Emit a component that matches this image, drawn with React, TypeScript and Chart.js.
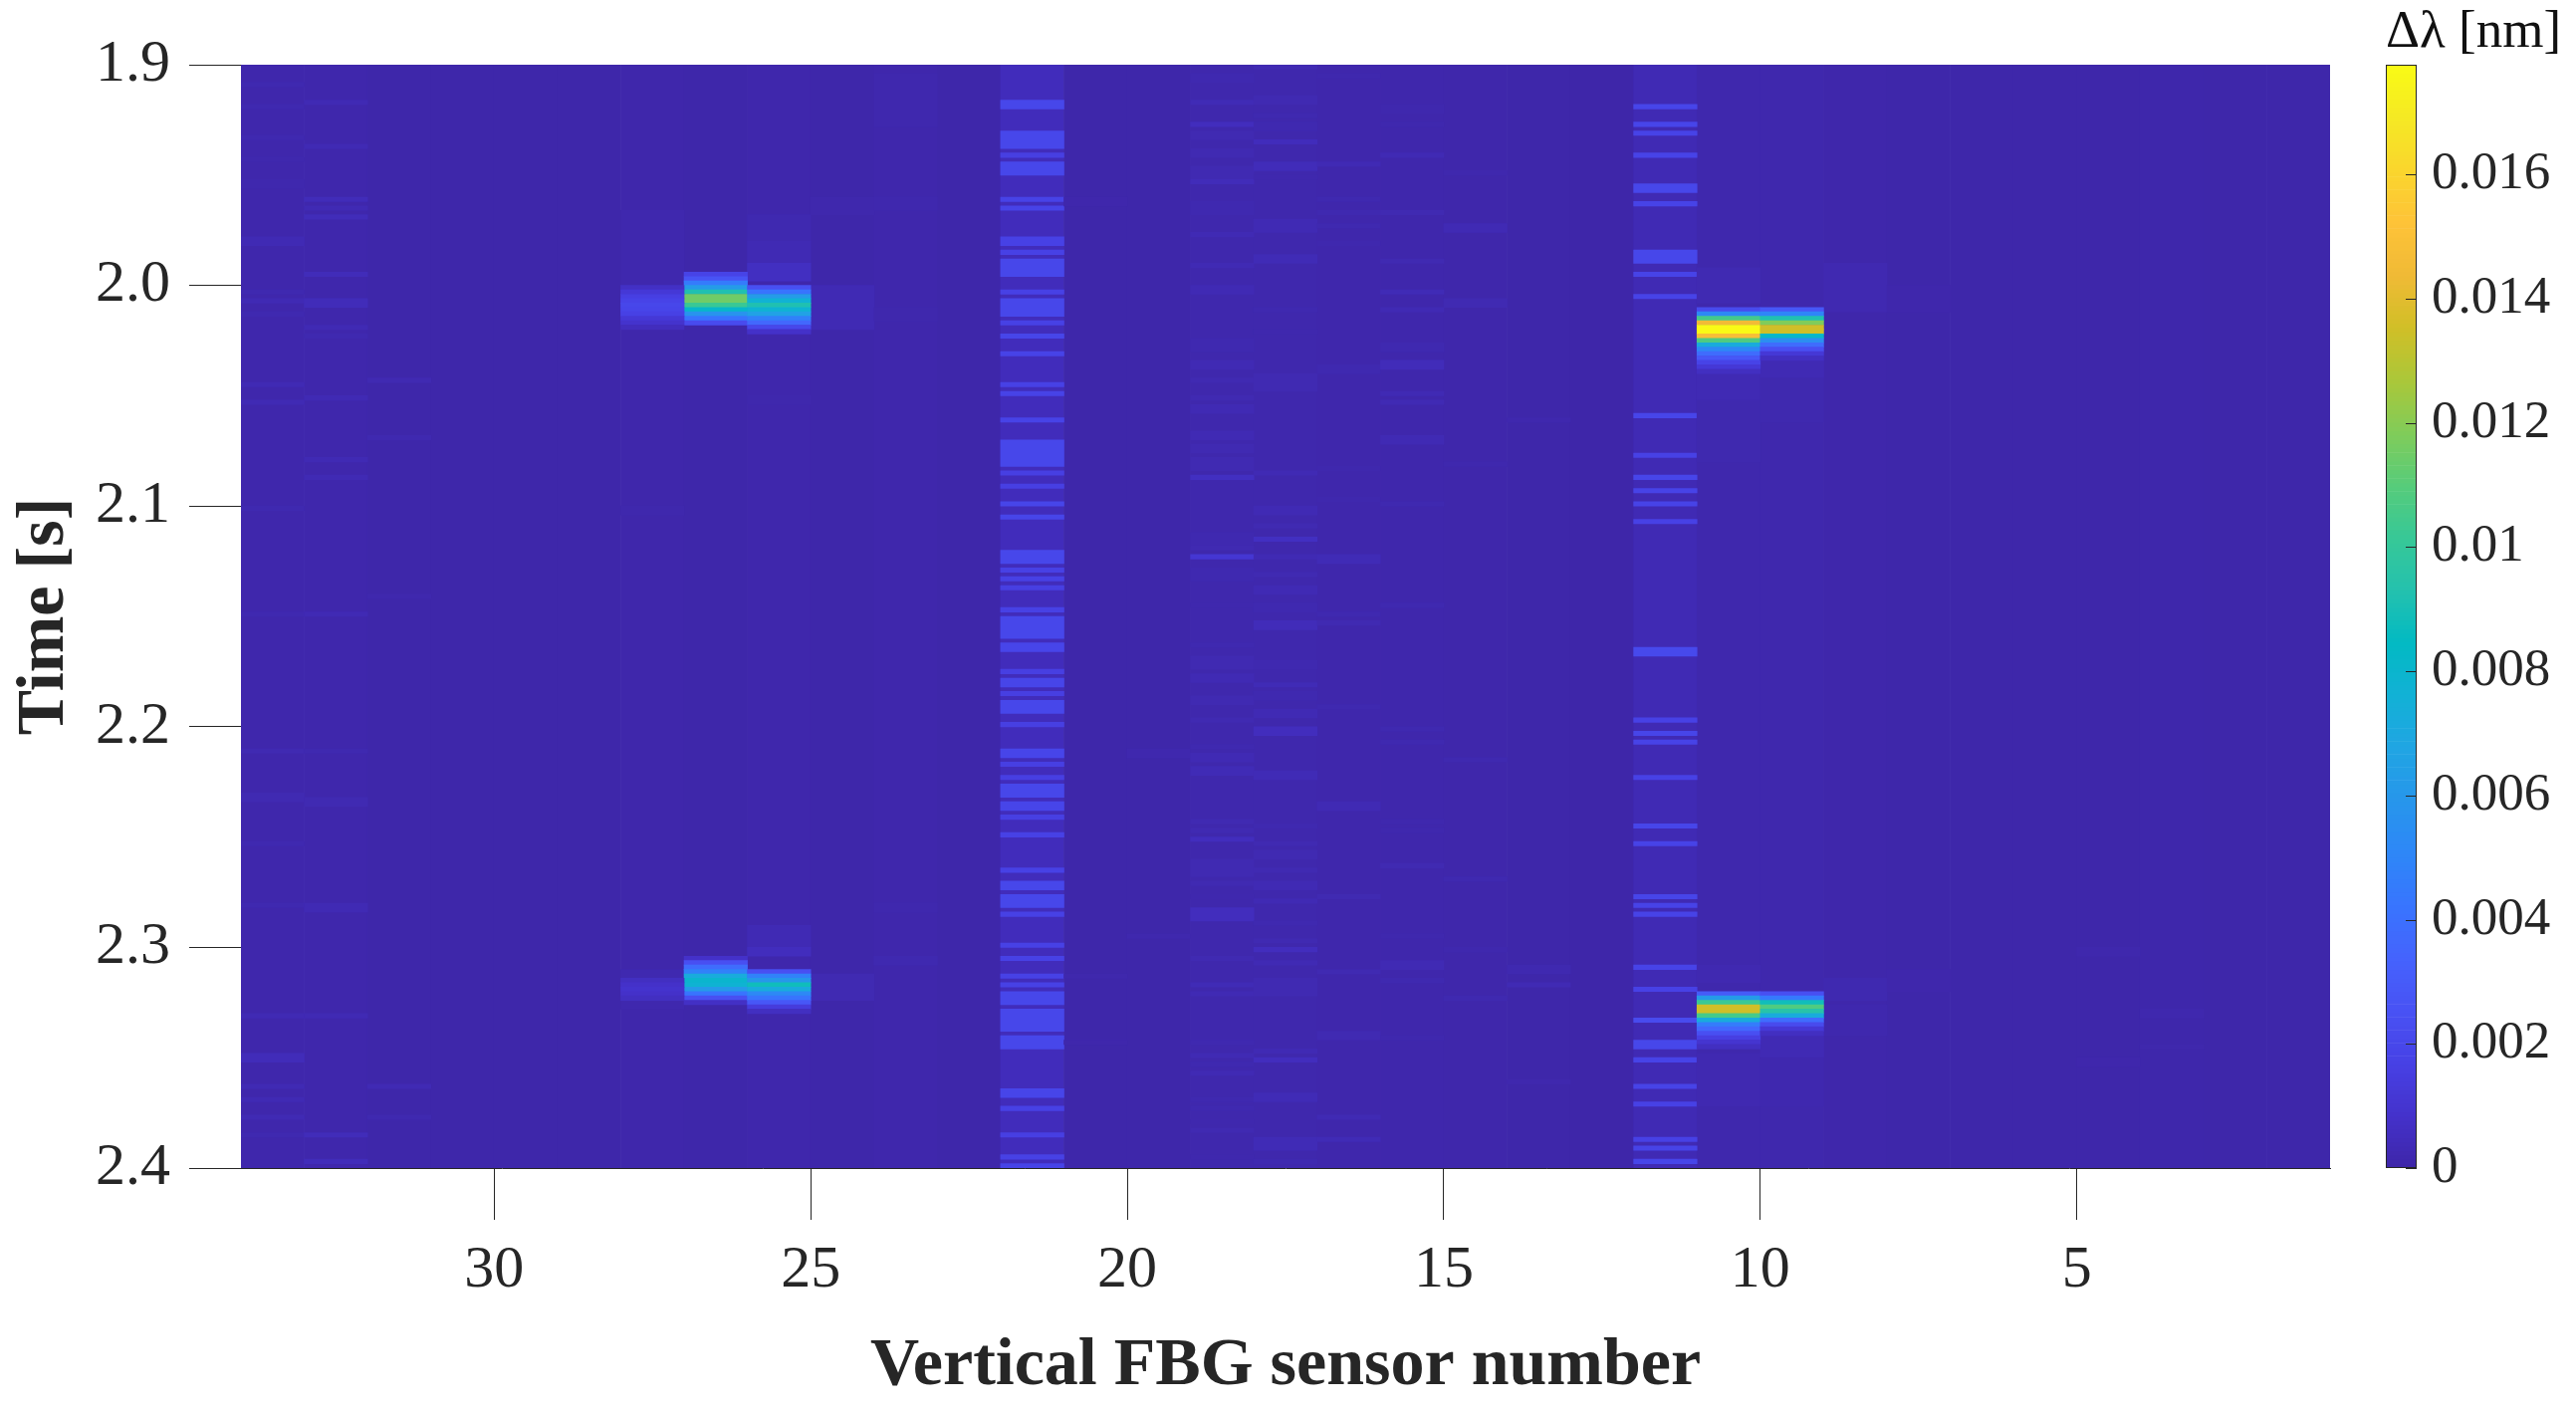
import { useEffect, useRef } from 'react';
import { Chart, registerables } from 'chart.js';

Chart.register(...registerables);

// one row = one 2 ms sample, row 0 starts at 1.9 s
const firstTime = 1.9;
const rowStep = 0.002;
const maxValue = 0.01777;

const xTickValues = [30, 25, 20, 15, 10, 5];
const yTickValues = [1.9, 2.0, 2.1, 2.2, 2.3, 2.4];
const barTickValues = [0, 0.002, 0.004, 0.006, 0.008, 0.01, 0.012, 0.014, 0.016];

// background level of the sensor columns, 34 down to 2 (a column spans n .. n-1)
const columnNumbers = [34, 33, 32, 31, 30, 29, 28, 27, 26, 25, 24, 23, 22, 21, 20, 19, 18, 17, 16, 15, 14, 13, 12, 11, 10, 9, 8, 7, 6, 5, 4, 3, 2];
const columnBase = [0.0001, 0.0001, 0.00006, 0.00005, 0.00005, 0.00005, 0.00008, 0.00005, 0.0001, 0.00005, 0.0001, 0.00005, 0.00045, 0.00004, 0.00005, 0.00012, 0.00012, 0.0001, 0.0001, 0.00008, 0.00005, 0.00003, 0.0003, 0.00012, 0.00012, 0.00008, 0.00006, 0.00006, 0.00005, 0.00006, 0.00007, 0.00005, 0.00006];

// bands: first row, end row, value
const bands34 = [[4,5,.0002],[9,10,.0002],[16,17,.0002],[21,22,.00015],[26,28,.00015],[39,41,.0003],[51,52,.0002],[53,54,.0003],[56,57,.0002],[72,73,.0003],[76,77,.0003],[100,101,.0002],[124,125,.0002],[155,156,.00025],[165,167,.00025],[176,177,.0002],[190,191,.0002],[215,216,.0003],[224,226,.0004],[231,232,.0003],[234,235,.0003],[238,239,.0003],[242,243,.0002]];
const bands33 = [[8,9,.0003],[18,19,.0003],[30,31,.0004],[32,33,.0003],[34,35,.0004],[47,48,.0004],[53,55,.0004],[59,60,.0003],[61,62,.0002],[75,76,.0003],[89,90,.0003],[93,94,.0003],[124,125,.0003],[155,156,.0002],[166,168,.00025],[190,192,.0003],[215,216,.0003],[242,243,.0004],[248,249,.0004]];
const bands32 = [[71,72,.00025],[84,85,.0002],[120,121,.00015],[231,232,.0003],[238,239,.0002]];
const bands28 = [[33,50,.00015],[100,102,.00012],[205,207,.0002],[212,214,.00015]];
const bands26 = [[34,40,.0002],[40,45,.0003],[45,49,.0006],[75,77,.00012],[195,200,.0003],[200,202,.0005]];
const bands25 = [[50,60,.0003],[206,212,.00025],[30,34,.00012]];
const bands24 = [[2,14,.00015],[30,33,.00015],[55,58,.00012],[190,192,.00015],[202,204,.0002]];
const bands22 = [[8,10,.002],[15,19,.002],[20,21,.0016],[22,25,.002],[30,31,.0018],[32,33,.0018],[39,41,.0017],[42,43,.0017],[44,48,.002],[51,52,.0017],[53,57,.002],[58,59,.0017],[61,62,.0019],[65,66,.0018],[72,73,.0017],[74,75,.0018],[80,81,.0018],[85,91,.002],[92,93,.0016],[95,96,.0016],[99,100,.0019],[102,103,.0019],[110,113,.002],[114,115,.0017],[116,117,.0017],[118,119,.0016],[123,124,.0017],[125,130,.002],[131,133,.0019],[137,138,.0016],[139,141,.0019],[142,143,.0016],[144,147,.002],[149,150,.0016],[155,157,.0019],[158,159,.0016],[161,162,.0016],[163,166,.002],[167,169,.0019],[170,171,.0016],[174,175,.0017],[182,183,.0017],[185,187,.002],[188,191,.002],[192,193,.0017],[199,200,.0017],[202,203,.0017],[206,207,.0017],[208,209,.0017],[210,213,.002],[214,219,.002],[220,223,.002],[232,234,.0019],[236,237,.0017],[242,243,.0016],[247,248,.0017],[249,250,.0018]];
const bands21 = [[30,32,.0001],[206,207,.00012],[221,222,.0001]];
const bands20 = [[155,157,.00015],[197,198,.00015]];
const bands19 = [[2,4,.0002],[8,9,.00035],[13,14,.0005],[15,17,.00025],[19,21,.00025],[23,26,.00025],[26,27,.0004],[31,34,.0002],[38,39,.0003],[45,46,.0003],[50,52,.0003],[62,65,.0002],[67,69,.0003],[71,72,.00025],[75,76,.00025],[77,79,.0003],[83,85,.0003],[86,88,.00025],[89,92,.00025],[93,94,.0006],[106,109,.0002],[109,110,.00025],[111,112,.0011],[114,117,.0002],[122,123,.00015],[131,132,.0002],[134,137,.00025],[138,140,.0003],[143,145,.00025],[148,149,.00025],[154,155,.0002],[156,158,.0003],[159,161,.00035],[171,172,.00025],[173,174,.00025],[175,176,.0005],[180,184,.00025],[185,186,.00025],[188,189,.00015],[191,194,.0005],[202,203,.00025],[208,209,.00035],[210,211,.0003],[221,222,.0002],[224,225,.0003],[226,227,.0002],[228,229,.0003],[234,235,.0002],[236,237,.0002],[239,240,.00015],[241,242,.00025],[247,248,.00015]];
const bands18 = [[0,1,.00025],[7,9,.00025],[11,12,.0002],[13,15,.0002],[17,18,.00045],[22,24,.0004],[25,26,.00015],[35,38,.0003],[43,45,.00035],[55,56,.0002],[60,61,.00015],[70,74,.00025],[92,93,.0003],[100,102,.0003],[104,105,.00025],[107,108,.0006],[111,112,.0003],[115,116,.00025],[118,120,.0003],[122,124,.0002],[126,128,.0004],[135,137,.0002],[140,141,.00035],[142,144,.0002],[146,148,.0003],[150,152,.0005],[160,162,.00035],[172,173,.0002],[176,177,.00025],[178,180,.00025],[182,183,.00025],[185,187,.0003],[189,190,.0003],[194,195,.0002],[198,199,.00025],[200,201,.0005],[203,204,.0003],[207,211,.00025],[223,224,.0003],[225,226,.0005],[233,235,.00035],[243,246,.00035],[248,249,.0002]];
const bands17 = [[2,3,.00015],[22,23,.0003],[30,31,.0002],[33,34,.0002],[36,37,.0002],[40,41,.00015],[68,70,.0002],[91,92,.00015],[98,99,.00015],[111,113,.00035],[124,125,.0002],[126,127,.00025],[145,146,.0002],[167,169,.0003],[188,189,.00025],[205,206,.00025],[219,221,.00025],[238,239,.0003],[243,244,.00035]];
const bands16 = [[9,11,.00015],[13,14,.00015],[20,21,.0003],[33,34,.00025],[44,45,.00025],[51,52,.00035],[55,56,.0003],[63,65,.0002],[67,69,.0004],[74,75,.0003],[76,77,.0003],[84,86,.0003],[99,100,.0002],[122,123,.0002],[150,151,.0002],[153,154,.0002],[171,172,.00015],[173,174,.00015],[181,182,.00025],[197,198,.00015],[203,205,.0003],[207,208,.0002],[220,221,.00015]];
const bands15 = [[24,25,.00015],[36,38,.0003],[53,55,.00025],[90,91,.00015],[157,158,.0002],[184,185,.0002],[200,201,.00015],[211,212,.0002]];
const bands14 = [[80,81,.00015],[204,206,.0002],[208,209,.0003],[230,231,.00015]];
const bands12 = [[9,10,.0019],[13,14,.0019],[15,16,.0018],[20,21,.0018],[27,29,.002],[31,32,.0018],[42,45,.002],[47,48,.0018],[52,53,.0018],[79,80,.0019],[88,89,.0017],[93,94,.0019],[96,97,.0018],[99,100,.0018],[103,104,.0017],[132,134,.0021],[148,149,.0017],[151,152,.0019],[153,154,.0018],[161,162,.0017],[172,173,.0019],[176,177,.0018],[188,189,.0019],[190,191,.0018],[192,193,.0018],[204,205,.0018],[209,210,.0017],[216,217,.0022],[221,223,.002],[225,226,.0018],[231,232,.0018],[235,236,.0017],[243,244,.0017],[245,246,.0018],[248,249,.0019]];
const bands11 = [[46,54,.00025],[69,76,.0003],[76,90,.00018],[204,208,.00022],[224,236,.00022]];
const bands10 = [[66,71,.0003],[71,81,.00018],[219,225,.0003],[225,236,.00016]];
const bands9 = [[45,56,.00022],[207,212,.0002],[213,220,.00015]];
const bands8 = [[50,56,.0001],[205,210,.0001]];
const bands5 = [[200,202,.00012],[225,227,.0001]];
const bands4 = [[214,216,.00015],[222,223,.00012]];

// pressure peaks: first row and then one value per row
const peak27a = [47, .0018, .0026, .0045, .0062, .0092, .0115, .0115, .0102, .0082, .0058, .0042, .0022];
const peak26a = [50, .0024, .0042, .0062, .0077, .0092, .0078, .0066, .0048, .0036, .002, .0008];
const peak28a = [50, .0007, .0012, .0016, .0018, .002, .0019, .0017, .0012, .0009, .0005];
const peak27b = [202, .0008, .0024, .0038, .0048, .0072, .008, .0078, .0062, .0042, .0024, .0007];
const peak26b = [205, .0024, .0048, .006, .0088, .0072, .0052, .0042, .0028, .0014, .0006];
const peak28b = [207, .0006, .0008, .0009, .0008, .0006];
const peak11a = [55, .0022, .0052, .0105, .0145, .0177, .0177, .0148, .0108, .0072, .0052, .0038, .0028, .0018, .0012, .0006];
const peak10a = [55, .0028, .005, .0092, .0118, .0135, .0135, .0082, .0055, .0038, .0024, .0012, .0006];
const peak11b = [210, .003, .0062, .0102, .0135, .0135, .0105, .0072, .0046, .0036, .0024, .0016, .001, .0006];
const peak10b = [210, .0024, .0044, .0088, .0108, .0095, .0072, .0038, .0022, .0012, .0006];

const bandTable: [number, number[][]][] = [
  [34, bands34], [33, bands33], [32, bands32], [28, bands28], [26, bands26], [25, bands25], [24, bands24],
  [22, bands22], [21, bands21], [20, bands20], [19, bands19], [18, bands18], [17, bands17], [16, bands16],
  [15, bands15], [14, bands14], [12, bands12], [11, bands11], [10, bands10], [9, bands9], [8, bands8], [5, bands5], [4, bands4],
];
const peakTable: [number, number[]][] = [
  [27, peak27a], [26, peak26a], [28, peak28a], [27, peak27b], [26, peak26b], [28, peak28b],
  [11, peak11a], [10, peak10a], [11, peak11b], [10, peak10b],
];

// parula, every third entry of the 64 level map
const parula = [
  [62, 38, 168], [68, 50, 203], [71, 65, 229], [72, 82, 244], [69, 99, 253], [56, 117, 254], [46, 135, 247], [39, 150, 235],
  [32, 165, 227], [18, 177, 214], [2, 186, 195], [36, 193, 174], [55, 200, 151], [87, 204, 122], [129, 204, 89], [171, 199, 57],
  [209, 191, 39], [240, 186, 54], [254, 195, 56], [250, 214, 45], [245, 233, 36], [249, 251, 21],
];

function colorFor(value: number) {
  const pos = Math.max(0, Math.min(1, value / maxValue)) * (parula.length - 1);
  const i = Math.min(Math.floor(pos), parula.length - 2);
  const f = pos - i;
  const c = parula[i].map((v, k) => Math.round(v + (parula[i + 1][k] - v) * f));
  return `rgb(${c[0]},${c[1]},${c[2]})`;
}

const rowTime = (row: number) => firstTime + row * rowStep;

function buildCells() {
  const cells: { x: number; y: number[]; v: number }[] = [];
  columnNumbers.forEach((col, i) => {
    cells.push({ x: col - 0.5, y: [firstTime, 2.4], v: columnBase[i] });
  });
  bandTable.forEach(([col, bands]) => {
    bands.forEach(([from, to, v]) => {
      cells.push({ x: col - 0.5, y: [rowTime(from), rowTime(to)], v });
    });
  });
  peakTable.forEach(([col, peak]) => {
    peak.slice(1).forEach((v, i) => {
      cells.push({ x: col - 0.5, y: [rowTime(peak[0] + i), rowTime(peak[0] + i + 1)], v });
    });
  });
  return cells;
}

function buildLevels() {
  const levels: { x: string; y: number[]; v: number }[] = [];
  const count = 256;
  for (let i = 0; i < count; i++) {
    levels.push({ x: 'level', y: [(i / count) * maxValue, ((i + 1) / count) * maxValue], v: ((i + 0.5) / count) * maxValue });
  }
  return levels;
}

const fontFamily = '"Liberation Serif", serif';
const inkColor = '#262626';

// colorbar box and its inward ticks
const barFrame = {
  id: 'barFrame',
  afterDatasetsDraw(chart: Chart) {
    const { ctx, chartArea } = chart;
    const scale = chart.scales.y;
    ctx.save();
    ctx.strokeStyle = inkColor;
    ctx.lineWidth = 1;
    ctx.strokeRect(chartArea.left + 0.5, chartArea.top + 0.5, chartArea.width - 1, chartArea.height - 1);
    barTickValues.forEach((v) => {
      const y = Math.round(scale.getPixelForValue(v)) + 0.5;
      ctx.beginPath();
      ctx.moveTo(chartArea.right - 11, y);
      ctx.lineTo(chartArea.right, y);
      ctx.stroke();
    });
    ctx.restore();
  },
};

function App() {
  const plotRef = useRef<HTMLCanvasElement>(null);
  const barRef = useRef<HTMLCanvasElement>(null);

  useEffect(() => {
    if (!plotRef.current || !barRef.current) return;

    const plot = new Chart(plotRef.current, {
      type: 'bar',
      data: {
        datasets: [
          {
            data: buildCells() as any,
            backgroundColor: (ctx: any) => colorFor(ctx.raw ? ctx.raw.v : 0),
            barPercentage: 1,
            categoryPercentage: 1,
            borderWidth: 0,
          },
        ],
      },
      options: {
        responsive: false,
        animation: false,
        devicePixelRatio: 1,
        layout: { padding: { top: 65, right: 247, left: 0, bottom: 0 } },
        plugins: { legend: { display: false }, tooltip: { enabled: false }, title: { display: false } },
        scales: {
          x: {
            type: 'linear',
            reverse: true,
            offset: false,
            min: 1,
            max: 34,
            afterBuildTicks: (axis: any) => {
              axis.ticks = xTickValues.map((value) => ({ value }));
            },
            afterFit: (axis: any) => {
              axis.height = 247;
            },
            grid: { offset: false, drawOnChartArea: false, tickLength: 52, tickColor: inkColor, tickWidth: 1 },
            border: { color: inkColor, width: 1 },
            ticks: {
              autoSkip: false,
              maxRotation: 0,
              color: inkColor,
              padding: 15,
              font: { family: fontFamily, size: 60 },
              callback: (v: any) => String(v),
            },
            title: {
              display: true,
              text: 'Vertical FBG sensor number',
              color: inkColor,
              padding: { top: 0, bottom: 7 },
              font: { family: fontFamily, size: 68, weight: 'bold' },
            },
          },
          y: {
            type: 'linear',
            reverse: true,
            min: 1.9,
            max: 2.4,
            afterBuildTicks: (axis: any) => {
              axis.ticks = yTickValues.map((value) => ({ value }));
            },
            afterFit: (axis: any) => {
              axis.width = 242;
            },
            grid: { drawOnChartArea: false, tickLength: 52, tickColor: inkColor, tickWidth: 1 },
            border: { color: inkColor, width: 1 },
            ticks: {
              autoSkip: false,
              color: inkColor,
              padding: 19,
              font: { family: fontFamily, size: 60 },
              callback: (v: any) => Number(v).toFixed(1),
            },
            title: {
              display: true,
              text: 'Time [s]',
              color: inkColor,
              padding: { top: 5, bottom: 0 },
              font: { family: fontFamily, size: 68, weight: 'bold' },
            },
          },
        },
      },
    } as any);

    const bar = new Chart(barRef.current, {
      type: 'bar',
      data: {
        labels: ['level'],
        datasets: [
          {
            data: buildLevels() as any,
            backgroundColor: (ctx: any) => colorFor(ctx.raw ? ctx.raw.v : 0),
            barPercentage: 1,
            categoryPercentage: 1,
            borderWidth: 0,
          },
        ],
      },
      options: {
        responsive: false,
        animation: false,
        devicePixelRatio: 1,
        layout: { padding: { top: 0, right: 0, left: 0, bottom: 247 } },
        plugins: {
          legend: { display: false },
          tooltip: { enabled: false },
          title: {
            display: true,
            text: 'Δλ [nm]',
            align: 'start',
            color: '#111111',
            padding: { top: 1, bottom: 0.4 },
            font: { family: fontFamily, size: 53, weight: 'normal' },
          },
        },
        scales: {
          x: { type: 'category', display: false },
          y: {
            type: 'linear',
            position: 'right',
            min: 0,
            max: maxValue,
            afterBuildTicks: (axis: any) => {
              axis.ticks = barTickValues.map((value) => ({ value }));
            },
            afterFit: (axis: any) => {
              axis.width = 160;
            },
            grid: { display: false },
            border: { display: false },
            ticks: {
              autoSkip: false,
              color: inkColor,
              padding: 7,
              font: { family: fontFamily, size: 53 },
              callback: (v: any) => String(Number(Number(v).toFixed(3))),
            },
          },
        },
      },
      plugins: [barFrame],
    } as any);

    return () => {
      plot.destroy();
      bar.destroy();
    };
  }, []);

  return (
    <div style={{ position: 'absolute', left: 0, top: 0, width: 2587, height: 1420, background: '#ffffff', overflow: 'hidden' }}>
      <canvas ref={plotRef} width={2587} height={1420} style={{ position: 'absolute', left: 0, top: 0 }} />
      <canvas ref={barRef} width={191} height={1420} style={{ position: 'absolute', left: 2396, top: 0 }} />
    </div>
  );
}

export default App;
